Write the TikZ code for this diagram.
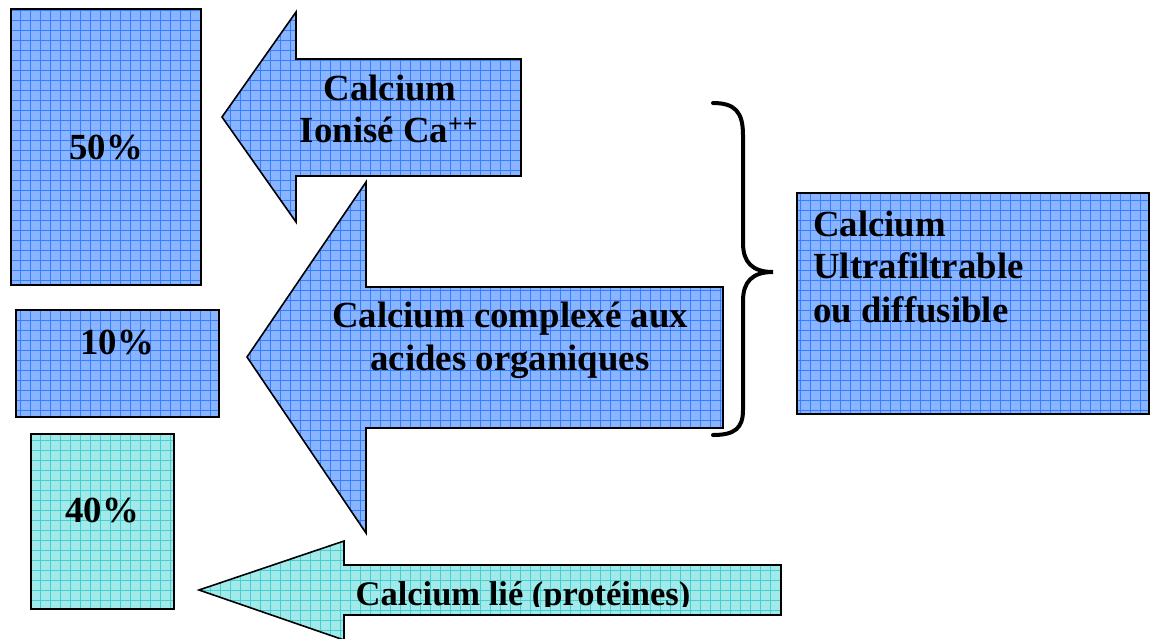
\documentclass[tikz,border=0pt]{standalone}
\usepackage{fontspec}
\setmainfont{Liberation Serif}
\definecolor{bluefill}{RGB}{137,180,255}
\definecolor{blueline}{RGB}{55,125,255}
\definecolor{cyanfill}{RGB}{162,233,233}
\definecolor{cyanline}{RGB}{70,206,210}
\newcommand\gridshape[3]{%
  \fill[#1] #3;
  \begin{scope}
    \clip #3;
    \draw[#2,line width=1] foreach \gx in {0,10,...,1160} {(\gx,0) -- (\gx,640)};
    \draw[#2,line width=1] foreach \gy in {0,10,...,640} {(0,\gy) -- (1160,\gy)};
  \end{scope}
  \draw[outline] #3;}
\tikzset{
  outline/.style={draw=black,line width=1.6,line join=miter},
  lbl/.style={inner sep=0pt,font=\fontsize{36.8}{44}\selectfont\bfseries},
  lblsmall/.style={inner sep=0pt,font=\fontsize{34.5}{41}\selectfont\bfseries},
  bracestyle/.style={draw=black,line width=4,line cap=round}
}
\begin{document}
\begin{tikzpicture}[x=1pt,y=-1pt]
\useasboundingbox (0,0) rectangle (1156,638);
% boxes
\gridshape{bluefill}{blueline}{(11,9) rectangle (201,285)}
\gridshape{bluefill}{blueline}{(16,310) rectangle (219,417)}
\gridshape{cyanfill}{cyanline}{(31,434) rectangle (174,609)}
\gridshape{bluefill}{blueline}{(797,193) rectangle (1149,414)}
% arrows
\gridshape{bluefill}{blueline}{(222,117) -- (296,12) -- (296,59) -- (521,59) -- (521,176) -- (296,176) -- (296,222) -- cycle}
\gridshape{bluefill}{blueline}{(247,357) -- (366,182) -- (366,287) -- (723,287) -- (723,428) -- (366,428) -- (366,533) -- cycle}
\gridshape{cyanfill}{cyanline}{(199,590) -- (344,541) -- (344,565) -- (781,565) -- (781,615) -- (344,615) -- (344,640) -- cycle}
% brace
\draw[bracestyle] (713,103) .. controls (735,103) and (743,112) .. (743,135)
  -- (743,243) .. controls (743,262) and (752,272) .. (773,272)
  .. controls (752,272) and (743,282) .. (743,301)
  -- (743,410) .. controls (743,428) and (735,435) .. (713,435);
% texts
\node[lbl,anchor=base] (p50) at (106,159) {50\%};
\node[lbl,anchor=base] (p10) at (117,354) {10\%};
\node[lbl,anchor=base] (p40) at (102,522) {40\%};
\node[lbl,anchor=base] (ion1) at (390,100) {Calcium};
\node[lbl,anchor=base] (ion2) at (389,142) {Ionisé Ca\textsuperscript{++}};
\node[lbl,anchor=base] (cx1) at (510,327) {Calcium complexé aux};
\node[lbl,anchor=base] (cx2) at (510,370) {acides organiques};
\node[lbl,anchor=base west] (uf1) at (813,236) {Calcium};
\node[lbl,anchor=base west] (uf2) at (813,278) {Ultrafiltrable};
\node[lbl,anchor=base west] (uf3) at (813,322) {ou diffusible};
\begin{scope}
  \clip (300,560) rectangle (790,606);
  \node[lblsmall,anchor=base] (lie) at (523,605) {Calcium lié (protéines)};
\end{scope}
\end{tikzpicture}
\end{document}
